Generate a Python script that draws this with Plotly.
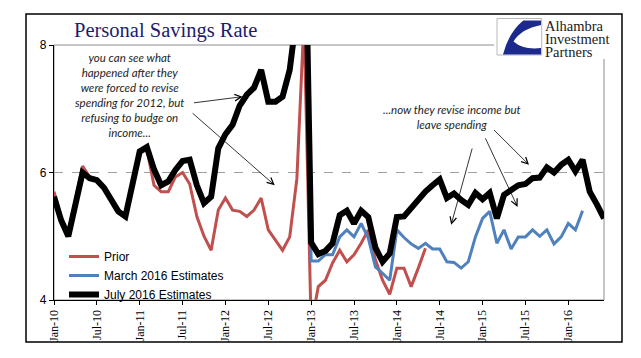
import plotly.graph_objects as go

# ---------------- data ----------------
months = [
    'Jan-10','Feb-10','Mar-10','Apr-10','May-10','Jun-10','Jul-10','Aug-10','Sep-10','Oct-10','Nov-10','Dec-10',
    'Jan-11','Feb-11','Mar-11','Apr-11','May-11','Jun-11','Jul-11','Aug-11','Sep-11','Oct-11','Nov-11','Dec-11',
    'Jan-12','Feb-12','Mar-12','Apr-12','May-12','Jun-12','Jul-12','Aug-12','Sep-12','Oct-12','Nov-12','Dec-12',
    'Jan-13','Feb-13','Mar-13','Apr-13','May-13','Jun-13','Jul-13','Aug-13','Sep-13','Oct-13','Nov-13','Dec-13',
    'Jan-14','Feb-14','Mar-14','Apr-14','May-14','Jun-14','Jul-14','Aug-14','Sep-14','Oct-14','Nov-14','Dec-14',
    'Jan-15','Feb-15','Mar-15','Apr-15','May-15','Jun-15','Jul-15','Aug-15','Sep-15','Oct-15','Nov-15','Dec-15',
    'Jan-16','Feb-16','Mar-16','Apr-16','May-16','Jun-16',
]

prior = [
    5.70, 5.30, 5.05, 5.55, 6.10, 5.93, 5.90, 5.78, 5.58, 5.40, 5.32, 5.85,
    6.30, 6.36, 5.80, 5.70, 5.70, 5.93, 6.00, 5.82, 5.31, 5.00, 4.78, 5.41,
    5.60, 5.41, 5.39, 5.31, 5.41, 5.60, 5.10, 4.94, 4.78, 4.99, 5.90, 8.40,
    3.60, 4.21, 4.31, 4.58, 4.78, 4.60, 4.71, 4.89, 5.10, 4.63, 4.31, 4.09,
    4.50, 4.50, 4.21, 4.50, 4.81,
]

march_2016 = [
    5.62, 5.25, 5.00, 5.52, 6.00, 5.91, 5.88, 5.76, 5.57, 5.39, 5.31, 5.85,
    6.33, 6.40, 6.05, 5.80, 5.86, 6.04, 6.18, 6.20, 5.80, 5.52, 5.62, 6.38,
    6.60, 6.75, 7.05, 7.22, 7.33, 7.61, 7.11, 7.11, 7.19, 7.61, 8.50, 11.00,
    4.61, 4.61, 4.71, 4.71, 4.99, 5.10, 4.99, 5.20, 4.97, 4.52, 4.42, 4.31,
    5.10, 4.98, 4.88, 4.81, 4.89, 4.80, 4.80, 4.60, 4.59, 4.50, 4.60, 4.99,
    5.28, 5.39, 4.89, 5.10, 4.80, 4.99, 4.99, 5.10, 5.00, 5.10, 4.88, 4.99,
    5.20, 5.10, 5.40,
]

july_2016 = [
    5.62, 5.25, 5.00, 5.52, 6.00, 5.91, 5.88, 5.76, 5.57, 5.39, 5.31, 5.85,
    6.33, 6.40, 6.05, 5.80, 5.86, 6.04, 6.18, 6.20, 5.80, 5.52, 5.62, 6.38,
    6.60, 6.75, 7.05, 7.22, 7.33, 7.61, 7.11, 7.11, 7.19, 7.61, 8.50, 11.00,
    4.90, 4.72, 4.77, 4.89, 5.33, 5.40, 5.20, 5.40, 5.30, 4.82, 4.60, 4.73,
    5.30, 5.31, 5.44, 5.60, 5.70, 5.80, 5.89, 5.60, 5.67, 5.57, 5.49, 5.68,
    5.58, 5.68, 5.28, 5.65, 5.73, 5.80, 5.82, 5.91, 5.92, 6.08, 6.00, 6.12,
    6.20, 6.02, 6.20, 5.70, 5.50, 5.28,
]

tick_labels = ['Jan-10', 'Jul-10', 'Jan-11', 'Jul-11', 'Jan-12', 'Jul-12', 'Jan-13',
               'Jul-13', 'Jan-14', 'Jul-14', 'Jan-15', 'Jul-15', 'Jan-16']
y_ticks = [4, 6, 8]

series_names = ['Prior', 'March 2016 Estimates', 'July 2016 Estimates']

# ---------------- geometry ----------------
# The page body has an 8px margin, so the figure is drawn 8px smaller and
# all reference pixel positions are shifted by OFF.
OFF = 8
W, H = 641 - OFF, 358 - OFF
PL, PT, PR, PB = 54, 45, 604, 300          # plot area in reference pixels
L, T = PL - OFF, PT - OFF
R, B = W - (PR - OFF), H - (PB - OFF)
PW, PH = PR - PL, PB - PT


def px(xp):
    return (xp - PL) / PW


def py(yp):
    return (PB - yp) / PH


idx = {m: i for i, m in enumerate(months)}

fig = go.Figure()
fig.add_trace(go.Scatter(x=[idx[m] for m in months[:len(prior)]], y=prior, mode='lines',
                         name=series_names[0], line=dict(color='#C0504D', width=3)))
fig.add_trace(go.Scatter(x=[idx[m] for m in months[:len(march_2016)]], y=march_2016, mode='lines',
                         name=series_names[1], line=dict(color='#4F81BD', width=3)))
fig.add_trace(go.Scatter(x=[idx[m] for m in months[:len(july_2016)]], y=july_2016, mode='lines',
                         name=series_names[2], line=dict(color='#000000', width=6)))

fig.update_layout(
    width=W, height=H,
    margin=dict(l=L, r=R, t=T, b=B, pad=0),
    paper_bgcolor='white', plot_bgcolor='white',
    showlegend=True,
    legend=dict(x=px(64), y=py(242), xanchor='left', yanchor='top',
                bgcolor='rgba(0,0,0,0)', borderwidth=0,
                font=dict(family='Liberation Sans, Arial', size=12, color='#000000'),
                itemwidth=30, tracegroupgap=0),
    xaxis=dict(range=[0, len(months) - 1], tickmode='array',
               tickvals=[idx[t] for t in tick_labels], ticktext=tick_labels,
               tickangle=-90, showgrid=False, zeroline=False,
               showline=True, linecolor='#000000', linewidth=1.2,
               ticks='outside', ticklen=4, tickcolor='#000000',
               tickfont=dict(family='Liberation Serif, Times New Roman', size=12, color='#000000')),
    yaxis=dict(range=[4, 8], tickmode='array', tickvals=y_ticks,
               showgrid=True, gridcolor='#A0A0A0', griddash='dash', gridwidth=1,
               zeroline=False, showline=True, linecolor='#000000', linewidth=1.2,
               ticks='outside', ticklen=4, tickcolor='#000000',
               tickfont=dict(family='Liberation Sans, Arial', size=12, color='#000000')),
)

shapes = []
# plot-area frame (gray top/right)
shapes.append(dict(type='rect', xref='paper', yref='paper', x0=0, y0=0, x1=1, y1=1,
                   line=dict(color='#8C8C8C', width=1), layer='below'))
# white patch behind logo
shapes.append(dict(type='rect', xref='paper', yref='paper', x0=px(494), y0=py(59), x1=px(621), y1=py(15),
                   line=dict(width=0), fillcolor='white', layer='above'))
# outer border
shapes.append(dict(type='rect', xref='paper', yref='paper', x0=px(26), y0=py(342), x1=px(622), y1=py(14),
                   line=dict(color='#000000', width=1.5), layer='above'))
# logo box
shapes.append(dict(type='rect', xref='paper', yref='paper', x0=px(497), y0=py(55), x1=px(541.7), y1=py(18.5),
                   line=dict(color='#B8B8B8', width=1), fillcolor='white', layer='above'))
# logo swoosh
path = 'M{:.5f},{:.5f} L{:.5f},{:.5f} L{:.5f},{:.5f} '.format(px(523.3), py(20.5), px(541), py(20.5), px(541), py(25))
path += 'Q{:.5f},{:.5f} {:.5f},{:.5f} '.format(px(521), py(29), px(513.5), py(41.5))
path += 'Q{:.5f},{:.5f} {:.5f},{:.5f} '.format(px(523), py(50), px(541), py(48))
path += 'L{:.5f},{:.5f} L{:.5f},{:.5f} '.format(px(541), py(54.5), px(503), py(54.5))
path += 'Q{:.5f},{:.5f} {:.5f},{:.5f} Z'.format(px(509), py(32), px(523.3), py(20.5))
shapes.append(dict(type='path', xref='paper', yref='paper', path=path,
                   fillcolor='#1B2A8C', line=dict(width=0), layer='above'))
fig.update_layout(shapes=shapes)

ann = []
ann.append(dict(text='Personal Savings Rate', xref='paper', yref='paper', x=px(165.5), y=py(31),
                xanchor='center', yanchor='middle', showarrow=False,
                font=dict(family='Liberation Serif, Times New Roman', size=20.5, color='#1C1C6E')))
for t, yy in [('Alhambra', 25.5), ('Investment', 38.5), ('Partners', 51.5)]:
    ann.append(dict(text=t, xref='paper', yref='paper', x=px(543), y=py(yy),
                    xanchor='left', yanchor='middle', showarrow=False,
                    font=dict(family='Liberation Serif, Times New Roman', size=14.5, color='#1A1A1A')))
ann.append(dict(text='<i>you can see what<br>happened after they<br>were forced to revise<br>'
                     'spending for 2012, but<br>refusing to budge on<br>income...</i>',
                xref='paper', yref='paper', x=px(129), y=py(95), xanchor='center', yanchor='middle',
                showarrow=False, align='center',
                font=dict(family='Lato, Open Sans', size=11.5, color='#1E1E1E')))
ann.append(dict(text='<i>...now they revise income but<br>leave spending</i>',
                xref='paper', yref='paper', x=px(452.5), y=py(117), xanchor='center', yanchor='middle',
                showarrow=False, align='center',
                font=dict(family='Lato, Open Sans', size=11.5, color='#1E1E1E')))

# arrows: (head x, head y, tail x, tail y) in axis units
arrows = [(26.4, 7.19, 19.4, 7.09),
          (30.9, 5.80, 19.2, 6.95),
          (55.6, 5.18, 58.6, 6.40),
          (64.9, 5.46, 60.3, 6.56),
          (66.5, 6.12, 61.4, 6.69)]
for hx, hy, tx, ty in arrows:
    ann.append(dict(text='', x=hx, y=hy, ax=tx, ay=ty, xref='x', yref='y', axref='x', ayref='y',
                    showarrow=True, arrowhead=5, arrowsize=1.6, arrowwidth=0.8,
                    arrowcolor='#000000', standoff=0, startstandoff=0))
fig.update_layout(annotations=ann)

fig.write_html('out.html')
